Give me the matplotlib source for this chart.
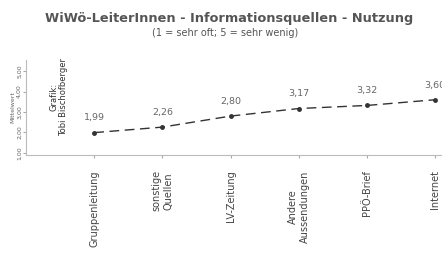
import matplotlib.pyplot as plt

categories = ['Gruppenleitung', 'sonstige\nQuellen', 'LV-Zeitung', 'Andere\nAussendungen', 'PPÖ-Brief', 'Internet']
values = [1.99, 2.26, 2.80, 3.17, 3.32, 3.60]
ytick_vals = [1, 2, 3, 4, 5]
ytick_labels = ['1,00', '2,00', '3,00', '4,00', '5,00']

fig = plt.figure(figsize=(4.42, 2.56), dpi=100)
ax = fig.add_axes([0.059, 0.395, 0.941, 0.371])

x = list(range(1, len(values) + 1))
ax.plot(x, values, color='#333333', linestyle=(0, (7, 4)), linewidth=1.0,
        marker='o', markersize=2.5, clip_on=False)
for xi, v in zip(x, values):
    ax.text(xi, v + 0.5, ('%.2f' % v).replace('.', ','), ha='center', va='bottom',
            fontsize=6.8, color='#666666')

ax.set_xlim(0, 6.1)
ax.set_ylim(0.9, 5.55)
ax.set_xticks(x)
ax.set_xticklabels(categories, rotation=90, fontsize=7, color='#444444', va='top')
ax.set_yticks(ytick_vals)
ax.set_yticklabels(ytick_labels, rotation=90, fontsize=4.5, color='#666666', va='center')
ax.tick_params(axis='x', length=2, color='#aaaaaa', pad=9)
ax.tick_params(axis='y', length=2, color='#aaaaaa', pad=1)
ax.set_ylabel('Mittelwert', fontsize=4.5, color='#666666', labelpad=1)
for s in ['top', 'right']:
    ax.spines[s].set_visible(False)
for s in ['left', 'bottom']:
    ax.spines[s].set_color('#bbbbbb')
    ax.spines[s].set_linewidth(0.8)

fig.text(0.518, 0.926, 'WiWö-LeiterInnen - Informationsquellen - Nutzung', ha='center',
         va='center', fontsize=9.3, fontweight='bold', color='#555555')
fig.text(0.509, 0.87, '(1 = sehr oft; 5 = sehr wenig)', ha='center', va='center',
         fontsize=7, color='#555555')
fig.text(0.133, 0.47, 'Grafik:\nTobi Bischofberger', rotation=90, ha='center', va='bottom',
         fontsize=6, color='#333333', linespacing=1.2)

fig.savefig('out.png', dpi=100)
